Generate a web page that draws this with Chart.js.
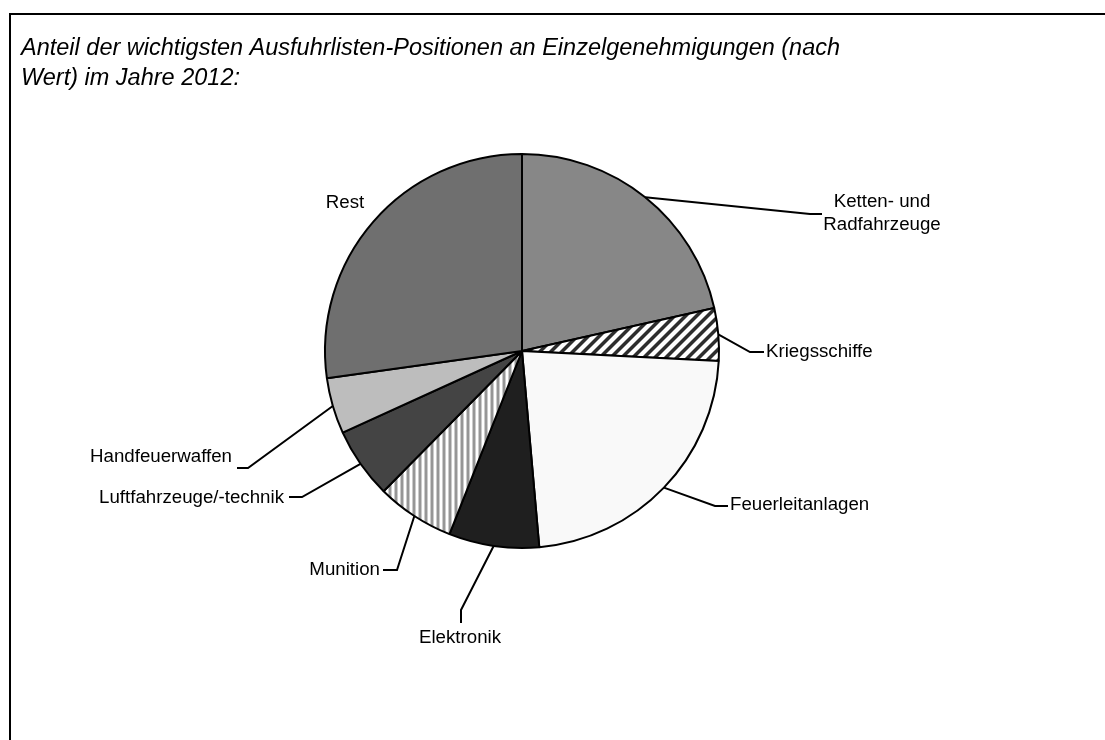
<!DOCTYPE html>
<html lang="de">
<head>
<meta charset="utf-8">
<title>Ausfuhrlisten-Positionen 2012</title>
<script src="https://cdn.jsdelivr.net/npm/chart.js@4.4.1/dist/chart.umd.min.js"></script>
<style>
  html, body { margin: 0; padding: 0; background: #fff; }
  #wrap { position: relative; width: 1105px; height: 740px; overflow: hidden; }
</style>
</head>
<body>
<div id="wrap"><canvas id="pie" width="1105" height="740"></canvas></div>
<script>
// data (share of value, %)
const categories = ["Ketten- und Radfahrzeuge", "Kriegsschiffe", "Feuerleitanlagen", "Elektronik", "Munition", "Luftfahrzeuge/-technik", "Handfeuerwaffen", "Rest"];
const shares = [21.5, 4.3, 22.8, 7.4, 6.4, 5.8, 4.6, 27.2];
const labelLines = [["Ketten- und", "Radfahrzeuge"], ["Kriegsschiffe"], ["Feuerleitanlagen"], ["Elektronik"], ["Munition"], ["Luftfahrzeuge/-technik"], ["Handfeuerwaffen"], ["Rest"]];
const titleLines = ["Anteil der wichtigsten Ausfuhrlisten-Positionen an Einzelgenehmigungen (nach", "Wert) im Jahre 2012:"];

// leader / label placement, relative to the pie centre
const labelLayout = [
  { elbow: [288, -137], end: [300, -137], text: [360, -149], align: "center" },
  { elbow: [228, 1], end: [242, 1], text: [244, 1], align: "left" },
  { elbow: [193, 155], end: [206, 155], text: [208, 154], align: "left" },
  { elbow: [-61, 259], end: [-61, 272], text: [-62, 287], align: "center" },
  { elbow: [-125, 219], end: [-139, 219], text: [-142, 219], align: "right" },
  { elbow: [-220, 146], end: [-233, 146], text: [-238, 147], align: "right" },
  { elbow: [-274, 117], end: [-285, 117], text: [-290, 106], align: "right" },
  { elbow: null, end: null, text: [-177, -148], align: "center" }
];

const LABEL_FONT = '18.7px "Liberation Sans", Arial, sans-serif';
const TITLE_FONT = 'italic 23.5px "Liberation Sans", Arial, sans-serif';

// builds a repeating tile pixel by pixel; shade(x, y) gives 0 (white) .. 1 (ink)
function makePattern(size, ink, shade){
  const c = document.createElement("canvas");
  c.width = size;
  c.height = size;
  const g = c.getContext("2d");
  const img = g.createImageData(size, size);
  for(let y = 0; y < size; y++){
    for(let x = 0; x < size; x++){
      const a = shade(x, y);
      const i = (y * size + x) * 4;
      for(let k = 0; k < 3; k++){
        img.data[i + k] = Math.round(255 - (255 - ink[k]) * a);
      }
      img.data[i + 3] = 255;
    }
  }
  g.putImageData(img, 0, 0);
  return g.createPattern(c, "repeat");
}

function stripe(pos, period, width){
  // soft-edged stripe centred at 0 within one period
  let d = ((pos % period) + period) % period;
  d = Math.min(d, period - d);
  return Math.max(0, Math.min(1, width / 2 - d + 0.5));
}

// diagonal hatch for Kriegsschiffe ("/" direction)
const diagHatch = makePattern(11, [45, 45, 45], (x, y) => stripe(x + y + 0.5, 11, 5));

// vertical stripes for Munition
const vertHatch = makePattern(6, [150, 150, 150], (x, y) => stripe(x + 0.5, 6, 3));

const fills = ["#878787", diagHatch, "#f9f9f9", "#1f1f1f", vertHatch, "#444444", "#bdbdbd", "#6f6f6f"];

const framePlugin = {
  id: "frame",
  beforeDraw(chart){
    const ctx = chart.ctx;
    ctx.save();
    ctx.fillStyle = "#fff";
    ctx.fillRect(0, 0, chart.width, chart.height);
    ctx.strokeStyle = "#000";
    ctx.lineWidth = 2;
    ctx.strokeRect(10, 14, 1200, 900);
    ctx.fillStyle = "#000";
    ctx.font = TITLE_FONT;
    ctx.textAlign = "left";
    ctx.textBaseline = "alphabetic";
    titleLines.forEach((line, i) => {
      ctx.fillText(line, 21, 55 + i * 30);
    });
    ctx.restore();
  }
};

const leaderPlugin = {
  id: "leaders",
  afterDatasetsDraw(chart){
    const ctx = chart.ctx;
    const arcs = chart.getDatasetMeta(0).data;
    ctx.save();
    ctx.strokeStyle = "#000";
    ctx.lineWidth = 2;
    ctx.fillStyle = "#000";
    ctx.font = LABEL_FONT;
    ctx.textBaseline = "middle";
    arcs.forEach((arc, i) => {
      const p = arc.getProps(["x", "y", "startAngle", "endAngle", "outerRadius"], true);
      const lay = labelLayout[i];
      if(lay.elbow){
        const mid = (p.startAngle + p.endAngle) / 2;
        ctx.beginPath();
        ctx.moveTo(p.x + p.outerRadius * Math.cos(mid), p.y + p.outerRadius * Math.sin(mid));
        ctx.lineTo(p.x + lay.elbow[0], p.y + lay.elbow[1]);
        ctx.lineTo(p.x + lay.end[0], p.y + lay.end[1]);
        ctx.stroke();
      }
      ctx.textAlign = lay.align;
      labelLines[i].forEach((t, k) => {
        ctx.fillText(t, p.x + lay.text[0], p.y + lay.text[1] + k * 23);
      });
    });
    ctx.restore();
  }
};

const chart = new Chart(document.getElementById("pie"), {
  type: "pie",
  data: {
    labels: categories,
    datasets: [{
      data: shares,
      backgroundColor: fills,
      borderColor: "#000",
      borderWidth: 2,
      hoverOffset: 0,
    }]
  },
  options: {
    responsive: false,
    devicePixelRatio: 1,
    animation: false,
    events: [],
    radius: 197,
    layout: { padding: { left: 272, right: 333, top: 131, bottom: 169 } },
    plugins: {
      legend: { display: false },
      tooltip: { enabled: false },
      title: { display: false }
    }
  },
  plugins: [framePlugin, leaderPlugin]
});
</script>
</body>
</html>
